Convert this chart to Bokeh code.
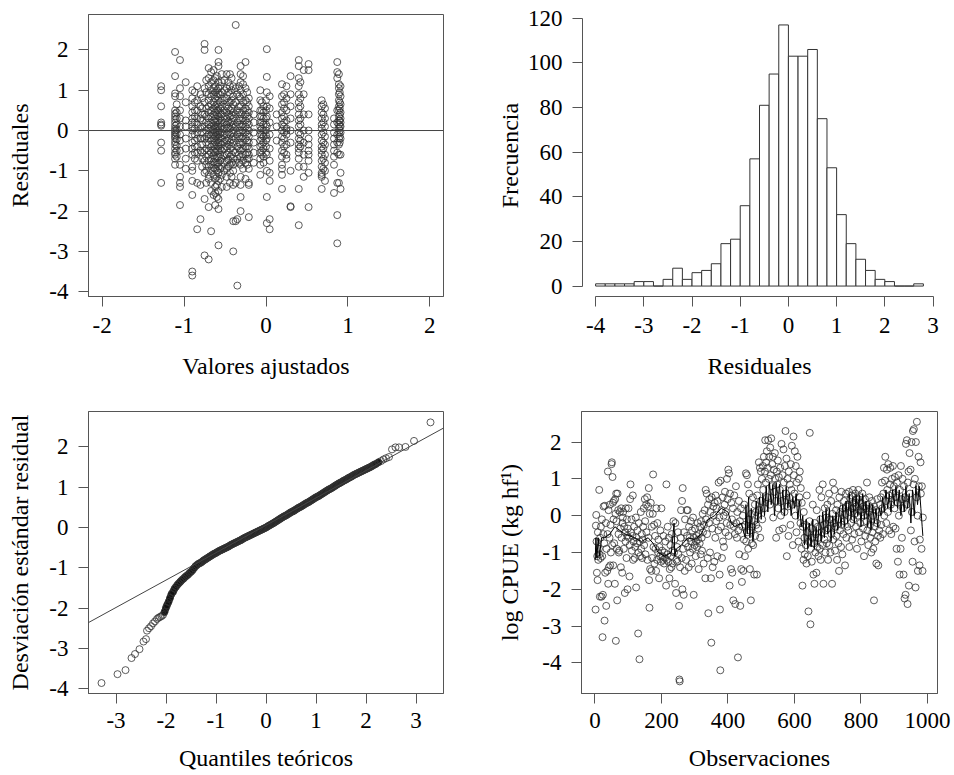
from bokeh.plotting import figure
from bokeh.models import Range1d, FixedTicker, Span, Slope, CustomJSTickFormatter
from bokeh.layouts import column, row
from bokeh.embed import file_html
from bokeh.resources import INLINE

# ---------------- data: residuals vs fitted (top-left) ----------------
tl_fitted = [
    -1.28, -1.28, -1.28, -1.28, -1.28, -1.28, -1.28, -1.28, -1.28,
    -1.11, -1.11, -1.11, -1.11, -1.11, -1.11, -1.11, -1.11, -1.11, -1.11, -1.11, -1.11,
    -1.11, -1.11, -1.11, -1.11, -1.11, -1.11, -1.11, -1.11, -1.11, -1.11, -1.11,
    -1.05, -1.05, -1.05, -1.05, -1.05, -1.05, -1.05, -1.05, -1.05, -1.05, -1.05, -1.05, -1.05, -1.05,
    -0.98, -0.98, -0.98, -0.98, -0.98, -0.98, -0.98, -0.98,
    -0.90, -0.90, -0.90, -0.90, -0.90, -0.90, -0.90, -0.90, -0.90, -0.90, -0.90, -0.90,
    -0.90, -0.90, -0.90, -0.90, -0.90, -0.90,
    -0.84, -0.84, -0.84, -0.84, -0.84, -0.84, -0.84, -0.84, -0.84, -0.84, -0.84, -0.84,
    -0.80, -0.80, -0.80, -0.80, -0.80, -0.80, -0.80, -0.80,
    -0.75, -0.75, -0.75, -0.75, -0.75, -0.75, -0.75, -0.75, -0.75, -0.75, -0.75, -0.75,
    -0.70, -0.70, -0.70, -0.70, -0.70, -0.70, -0.70, -0.70, -0.70, -0.70, -0.70,
    -0.70, -0.70, -0.70, -0.70, -0.70, -0.70, -0.70, -0.70, -0.70, -0.70,
    -0.67, -0.67, -0.67, -0.67, -0.67, -0.67, -0.67, -0.67, -0.67, -0.67,
    -0.67, -0.67, -0.67, -0.67, -0.67, -0.67, -0.67, -0.67, -0.67, -0.67,
    -0.62, -0.62, -0.62, -0.62, -0.62, -0.62, -0.62, -0.62, -0.62, -0.62, -0.62,
    -0.62, -0.62, -0.62, -0.62, -0.62, -0.62, -0.62, -0.62, -0.62, -0.62,
    -0.58, -0.58, -0.58, -0.58, -0.58, -0.58, -0.58, -0.58, -0.58, -0.58, -0.58, -0.58, -0.58, -0.58,
    -0.58, -0.58, -0.58, -0.58, -0.58, -0.58, -0.58, -0.58, -0.58, -0.58, -0.58, -0.58, -0.58,
    -0.54, -0.54, -0.54, -0.54, -0.54, -0.54, -0.54, -0.54, -0.54, -0.54, -0.54, -0.54, -0.54, -0.54, -0.54, -0.54,
    -0.48, -0.48, -0.48, -0.48, -0.48, -0.48, -0.48, -0.48, -0.48, -0.48, -0.48, -0.48, -0.48, -0.48, -0.48, -0.48,
    -0.44, -0.44, -0.44, -0.44, -0.44, -0.44, -0.44, -0.44, -0.44, -0.44, -0.44, -0.44, -0.44, -0.44, -0.44,
    -0.40, -0.40, -0.40, -0.40, -0.40, -0.40, -0.40, -0.40, -0.40, -0.40, -0.40, -0.40, -0.40, -0.40, -0.40, -0.40,
    -0.37, -0.37, -0.37, -0.37, -0.37, -0.37, -0.37, -0.37, -0.37, -0.37,
    -0.35, -0.35, -0.35, -0.35, -0.35, -0.35, -0.35, -0.35,
    -0.31, -0.31, -0.31, -0.31, -0.31, -0.31, -0.31, -0.31, -0.31, -0.31,
    -0.31, -0.31, -0.31, -0.31, -0.31, -0.31, -0.31, -0.31, -0.31,
    -0.25, -0.25, -0.25, -0.25, -0.25, -0.25, -0.25, -0.25, -0.25, -0.25, -0.25, -0.25, -0.25,
    -0.21, -0.21, -0.21, -0.21, -0.21, -0.21, -0.21, -0.21, -0.21, -0.21, -0.21, -0.21, -0.21, -0.21, -0.21,
    -0.15, -0.15, -0.15, -0.15, -0.15, -0.15,
    -0.07, -0.07, -0.07, -0.07, -0.07, -0.07, -0.07, -0.07, -0.07, -0.07, -0.07, -0.07, -0.07, -0.07,
    -0.03, -0.03, -0.03, -0.03, -0.03, -0.03, -0.03, -0.03, -0.03, -0.03,
    0.01, 0.01, 0.01, 0.01, 0.01, 0.01, 0.01, 0.01, 0.01, 0.01, 0.01,
    0.045, 0.045, 0.045, 0.045, 0.045, 0.045, 0.045, 0.045, 0.045, 0.045,
    0.13, 0.13, 0.13,
    0.195, 0.195, 0.195, 0.195, 0.195, 0.195, 0.195, 0.195, 0.195, 0.195, 0.195, 0.195, 0.195, 0.195, 0.195,
    0.25, 0.25, 0.25, 0.25, 0.25, 0.25, 0.25, 0.25, 0.25, 0.25,
    0.30, 0.30, 0.30, 0.30, 0.30, 0.30, 0.30, 0.30, 0.30,
    0.40, 0.40, 0.40, 0.40, 0.40, 0.40, 0.40, 0.40, 0.40, 0.40,
    0.40, 0.40, 0.40, 0.40, 0.40, 0.40, 0.40, 0.40, 0.40,
    0.46, 0.46, 0.46, 0.46, 0.46, 0.46, 0.46, 0.46,
    0.52, 0.52, 0.52, 0.52, 0.52, 0.52, 0.52, 0.52, 0.52, 0.52, 0.52,
    0.68, 0.68, 0.68, 0.68, 0.68, 0.68, 0.68, 0.68, 0.68, 0.68, 0.68, 0.68, 0.68, 0.68, 0.68, 0.68, 0.68,
    0.72, 0.72, 0.72, 0.72, 0.72, 0.72, 0.72, 0.72, 0.72,
    0.83, 0.83, 0.83, 0.83, 0.83, 0.83, 0.83, 0.83, 0.83,
    0.87, 0.87, 0.87, 0.87, 0.87, 0.87, 0.87, 0.87, 0.87, 0.87, 0.87,
    0.89, 0.89, 0.89, 0.89, 0.89, 0.89, 0.89, 0.89, 0.89, 0.89, 0.89, 0.89, 0.89, 0.89, 0.89, 0.89,
    0.91, 0.91, 0.91, 0.91, 0.91, 0.91, 0.91, 0.91, 0.91, 0.91, 0.91, 0.91,
    -0.73, -0.73, -0.73, -0.73, -0.73, -0.73, -0.73, -0.73, -0.73, -0.73, -0.73, -0.73, -0.73,
    -0.64, -0.64, -0.64, -0.64, -0.64, -0.64, -0.64, -0.64, -0.64, -0.64,
    -0.64, -0.64, -0.64, -0.64, -0.64, -0.64, -0.64, -0.64, -0.64,
    -0.60, -0.60, -0.60, -0.60, -0.60, -0.60, -0.60, -0.60, -0.60, -0.60,
    -0.60, -0.60, -0.60, -0.60, -0.60, -0.60, -0.60, -0.60, -0.60,
    -0.56, -0.56, -0.56, -0.56, -0.56, -0.56, -0.56, -0.56, -0.56, -0.56, -0.56, -0.56, -0.56, -0.56, -0.56, -0.56,
    -0.51, -0.51, -0.51, -0.51, -0.51, -0.51, -0.51, -0.51, -0.51, -0.51, -0.51, -0.51, -0.51,
    -0.46, -0.46, -0.46, -0.46, -0.46, -0.46, -0.46, -0.46, -0.46, -0.46, -0.46, -0.46, -0.46,
    -0.42, -0.42, -0.42, -0.42, -0.42, -0.42, -0.42, -0.42, -0.42, -0.42, -0.42, -0.42, -0.42,
    -0.33, -0.33, -0.33, -0.33, -0.33, -0.33, -0.33, -0.33, -0.33, -0.33, -0.33, -0.33,
    -0.28, -0.28, -0.28, -0.28, -0.28, -0.28, -0.28, -0.28, -0.28, -0.28, -0.28, -0.28, -0.28, -0.28,
    -0.23, -0.23, -0.23, -0.23, -0.23, -0.23, -0.23, -0.23, -0.23, -0.23, -0.23, -0.23,
    -0.05, -0.05, -0.05, -0.05, -0.05, -0.05, -0.05, -0.05, -0.05, -0.05,
    -1.09, -1.09, -1.09, -1.09, -1.09, -1.09, -1.09, -1.09, -1.09, -1.09,
    0.90, 0.90, 0.90, 0.90, 0.90, 0.90, 0.90, 0.90, 0.90,
    0.70, 0.70, 0.70, 0.70, 0.70, 0.70, 0.70, 0.70,
    0.42, 0.42, 0.42, 0.42, 0.42, 0.42, 0.42, 0.42,
    0.22, 0.22, 0.22, 0.22, 0.22, 0.22, 0.22, 0.22, 0.22, 0.22,
    0.00, 0.00, 0.00, 0.00, 0.00, 0.00, 0.00, 0.00, 0.00,
    -0.87, -0.87, -0.87, -0.87, -0.87, -0.87, -0.87, -0.87, -0.87, -0.87, -0.87,
    -0.78, -0.78, -0.78, -0.78, -0.78, -0.78, -0.78, -0.78, -0.78, -0.78, -0.78,
]
tl_resid = [
    1.1, 1.0, 0.6, 0.2, 0.15, 0.12, -0.3, -0.5, -1.3,
    1.95, 1.35, 0.92, 0.85, 0.5, 0.42, 0.35, 0.28, 0.2, 0.12, 0.05, 0.0,
    -0.05, -0.1, -0.15, -0.2, -0.28, -0.35, -0.45, -0.55, -0.6, -0.7, -0.85,
    1.75, 1.05, 0.85, 0.5, 0.3, 0.1, -0.1, -0.25, -0.5, -0.85, -1.15, -1.3, -1.4, -1.85,
    1.2, 0.7, 0.25, 0.1, -0.2, -0.45, -0.7, -0.95,
    1.0, 0.8, 0.6, 0.45, 0.3, 0.2, 0.1, 0.0, -0.1, -0.3, -0.45, -0.6,
    -0.9, -1.0, -1.25, -1.6, -3.5, -3.6,
    1.1, 0.75, 0.5, 0.3, 0.15, -0.05, -0.2, -0.4, -0.55, -0.75, -1.3, -2.45,
    0.9, 0.6, 0.3, 0.05, -0.2, -0.5, -1.35, -2.2,
    2.15, 2.0, 1.05, 0.7, 0.4, 0.1, -0.2, -0.5, -0.75, -1.05, -1.7, -3.1,
    1.55, 1.3, 1.1, 0.9, 0.75, 0.6, 0.45, 0.3, 0.15, 0.05, -0.1,
    -0.2, -0.35, -0.5, -0.6, -0.75, -0.9, -1.1, -1.2, -1.9, -3.2,
    1.45, 1.2, 1.0, 0.85, 0.65, 0.5, 0.35, 0.2, 0.1, 0.0,
    -0.12, -0.25, -0.4, -0.55, -0.7, -0.85, -1.0, -1.3, -1.5, -2.5,
    1.3, 1.1, 0.95, 0.8, 0.6, 0.45, 0.3, 0.2, 0.05, -0.05, -0.15,
    -0.3, -0.45, -0.55, -0.7, -0.8, -0.95, -1.2, -1.4, -1.55, -1.85,
    2.0, 1.7, 1.6, 1.2, 1.05, 0.9, 0.75, 0.6, 0.5, 0.35, 0.25, 0.1, 0.0, -0.1,
    -0.2, -0.3, -0.4, -0.5, -0.65, -0.8, -0.9, -1.05, -1.25, -1.5, -1.7, -1.95, -2.85,
    1.4, 1.2, 0.95, 0.8, 0.6, 0.4, 0.25, 0.1, -0.05, -0.2, -0.35, -0.5, -0.7, -0.9, -1.1, -1.4,
    1.4, 1.05, 0.8, 0.6, 0.45, 0.3, 0.15, 0.05, -0.1, -0.25, -0.4, -0.6, -0.75, -0.95, -1.15, -1.4,
    1.4, 1.1, 0.9, 0.7, 0.5, 0.35, 0.2, 0.05, -0.1, -0.3, -0.45, -0.65, -0.85, -1.05, -1.3,
    1.1, 0.85, 0.65, 0.45, 0.3, 0.15, 0.0, -0.15, -0.3, -0.5, -0.7, -0.85, -1.0, -1.35, -2.25, -3.0,
    2.62, 1.05, 0.7, 0.4, 0.1, -0.2, -0.55, -0.8, -1.3, -2.25,
    0.9, 0.5, 0.2, -0.1, -0.4, -0.7, -2.2, -3.85,
    1.6, 1.4, 1.2, 1.0, 0.8, 0.6, 0.4, 0.25, 0.1, -0.05,
    -0.2, -0.35, -0.5, -0.65, -0.85, -1.15, -1.35, -1.65, -2.0,
    1.7, 1.05, 0.75, 0.55, 0.4, 0.25, 0.1, -0.05, -0.2, -0.4, -0.6, -0.8, -1.2,
    0.8, 0.6, 0.45, 0.3, 0.15, 0.0, -0.15, -0.3, -0.45, -0.6, -0.7, -0.95, -1.3, -1.35, -2.15,
    0.4, 0.2, -0.05, -0.3, -0.55, -0.8,
    1.0, 0.75, 0.5, 0.35, 0.2, 0.1, 0.0, -0.1, -0.25, -0.4, -0.55, -0.7, -0.85, -1.1,
    0.6, 0.45, 0.3, 0.15, 0.0, -0.15, -0.3, -0.45, -0.65, -0.8,
    2.02, 1.33, 0.95, 0.6, 0.35, 0.1, -0.2, -0.6, -1.0, -1.65, -2.3,
    0.85, 0.55, 0.2, -0.1, -0.45, -0.75, -1.05, -1.25, -2.2, -2.45,
    0.4, 0.1, -0.25,
    1.15, 0.85, 0.65, 0.45, 0.3, 0.15, 0.0, -0.15, -0.3, -0.5, -0.65, -0.85, -0.95, -1.1, -1.45,
    1.1, 0.8, 0.5, 0.25, 0.05, 0.0, -0.1, -0.35, -0.6, -0.7,
    1.35, 0.9, 0.6, 0.3, 0.0, -0.3, -1.0, -1.9, -1.88,
    1.75, 1.6, 1.3, 1.1, 0.9, 0.7, 0.55, 0.4, 0.25, 0.1,
    -0.05, -0.2, -0.35, -0.45, -0.55, -0.7, -0.9, -1.45, -2.35,
    1.5, 0.9, 0.4, 0.0, -0.3, -0.6, -0.9, -1.15,
    1.65, 1.5, 0.4, 0.0, -0.2, -0.35, -0.5, -0.6, -0.75, -1.05, -1.9,
    0.75, 0.6, 0.45, 0.3, 0.15, 0.05, -0.1, -0.25, -0.4, -0.5, -0.6, -0.75, -0.9, -1.05, -1.1, -1.15, -1.45,
    0.55, 0.3, 0.1, -0.15, -0.35, -0.6, -0.8, -1.0, -1.25,
    0.3, 0.15, -0.05, -0.2, -0.35, -0.5, -0.65, -0.85, -1.55,
    1.7, 1.45, 1.3, 0.5, 0.2, -0.1, -0.3, -0.55, -1.3, -2.1, -2.8,
    1.4, 1.15, 1.05, 0.9, 0.75, 0.6, 0.5, 0.35, 0.25, 0.15, 0.05, -0.05, -0.2, -0.35, -0.6, -1.3,
    1.1, 0.85, 0.65, 0.45, 0.3, 0.2, 0.1, -0.05, -0.2, -0.6, -1.05, -1.45,
    1.25, 0.95, 0.55, 0.35, 0.2, 0.0, -0.15, -0.3, -0.45, -0.65, -0.85, -1.0, -1.3,
    1.5, 1.25, 1.05, 0.9, 0.7, 0.55, 0.4, 0.25, 0.12, 0.02,
    -0.08, -0.2, -0.35, -0.5, -0.62, -0.78, -0.92, -1.1, -1.6,
    1.35, 1.0, 0.85, 0.65, 0.5, 0.38, 0.22, 0.1, -0.02, -0.12,
    -0.25, -0.38, -0.52, -0.68, -0.85, -1.0, -1.15, -1.35, -1.65,
    1.1, 0.9, 0.7, 0.55, 0.42, 0.3, 0.18, 0.05, -0.08, -0.18, -0.3, -0.45, -0.6, -0.75, -0.95, -1.2,
    1.25, 1.0, 0.75, 0.5, 0.35, 0.2, 0.05, -0.12, -0.28, -0.45, -0.62, -0.8, -1.0,
    1.2, 0.95, 0.7, 0.55, 0.4, 0.22, 0.08, -0.05, -0.2, -0.35, -0.55, -0.72, -0.9,
    1.3, 1.0, 0.75, 0.55, 0.38, 0.22, 0.1, -0.05, -0.22, -0.4, -0.6, -0.8, -1.15,
    1.1, 0.85, 0.6, 0.45, 0.3, 0.15, 0.0, -0.15, -0.3, -0.45, -0.6, -0.8,
    1.35, 1.15, 0.9, 0.7, 0.5, 0.3, 0.15, 0.0, -0.15, -0.3, -0.45, -0.6, -0.75, -0.95,
    0.95, 0.7, 0.5, 0.35, 0.2, 0.05, -0.1, -0.25, -0.4, -0.55, -0.7, -0.85,
    0.7, 0.5, 0.35, 0.2, 0.05, -0.1, -0.2, -0.35, -0.5, -0.6,
    0.65, 0.45, 0.3, 0.15, 0.02, -0.08, -0.22, -0.38, -0.5, -0.65,
    0.95, 0.7, 0.55, 0.4, 0.25, 0.1, 0.0, -0.15, -0.3,
    0.65, 0.4, 0.2, -0.05, -0.3, -0.45, -0.7, -0.95,
    1.2, 0.8, 0.6, 0.3, 0.15, -0.1, -0.25, -0.4,
    0.9, 0.7, 0.55, 0.35, 0.2, 0.1, -0.05, -0.2, -0.4, -0.55,
    0.75, 0.5, 0.3, 0.15, 0.0, -0.12, -0.25, -0.4, -0.55,
    0.95, 0.7, 0.5, 0.35, 0.2, 0.05, -0.1, -0.25, -0.4, -0.55, -0.7,
    0.8, 0.55, 0.4, 0.25, 0.1, -0.05, -0.2, -0.35, -0.55, -0.7, -0.9,
]

# ---------------- data: histogram of residuals (top-right) ----------------
hist_breaks = [-4.0, -3.8, -3.6, -3.4, -3.2, -3.0, -2.8, -2.6, -2.4, -2.2, -2.0,
               -1.8, -1.6, -1.4, -1.2, -1.0, -0.8, -0.6, -0.4, -0.2, 0.0,
               0.2, 0.4, 0.6, 0.8, 1.0, 1.2, 1.4, 1.6, 1.8, 2.0, 2.2, 2.4, 2.6, 2.8]
hist_counts = [1, 1, 1, 1, 2, 2, 0, 3, 8, 3, 6, 7, 10, 19, 21, 36, 57, 81, 95, 117,
               103, 103, 106, 75, 53, 32, 19, 12, 7, 3, 2, 0, 0, 1]

# ---------------- data: normal Q-Q (bottom-left) ----------------
qq_theo = [
    -3.29, -2.97, -2.81, -2.69, -2.62, -2.53, -2.45, -2.40, -2.38, -2.34,
    -2.30, -2.26, -2.22, -2.18, -2.15, -2.12, -2.09, -2.06, -2.03, -2.00,
    -1.98, -1.95, -1.92, -1.89, -1.86, -1.83, -1.80, -1.77, -1.74, -1.71,
    -1.68, -1.65, -1.62, -1.59, -1.56, -1.53, -1.50, -1.47, -1.44, -1.41,
    -1.38, -1.35, -1.30, -1.25, -1.20, -1.15, -1.10, -1.05, -1.00, -0.95,
    -0.90, -0.85, -0.80, -0.75, -0.70, -0.65, -0.60, -0.55, -0.50, -0.45,
    -0.40, -0.35, -0.30, -0.25, -0.20, -0.15, -0.10, -0.05, 0.00, 0.05,
    0.10, 0.15, 0.20, 0.25, 0.30, 0.35, 0.40, 0.45, 0.50, 0.55,
    0.60, 0.65, 0.70, 0.75, 0.80, 0.85, 0.90, 0.95, 1.00, 1.05,
    1.10, 1.15, 1.20, 1.25, 1.30, 1.35, 1.40, 1.45, 1.50, 1.55,
    1.60, 1.65, 1.70, 1.75, 1.80, 1.85, 1.90, 1.95, 2.00, 2.05,
    2.10, 2.15, 2.20, 2.25, 2.30, 2.35, 2.40, 2.46, 2.52, 2.59,
    2.66, 2.79, 2.96, 3.29,
    -1.325, -1.275, -1.225, -1.175, -1.125, -1.075, -1.025, -0.975, -0.925, -0.875,
    -0.825, -0.775, -0.725, -0.675, -0.625, -0.575, -0.525, -0.475, -0.425, -0.375,
    -0.325, -0.275, -0.225, -0.175, -0.125, -0.075, -0.025, 0.025, 0.075, 0.125,
    0.175, 0.225, 0.275, 0.325, 0.375, 0.425, 0.475, 0.525, 0.575, 0.625,
    0.675, 0.725, 0.775, 0.825, 0.875, 0.925, 0.975, 1.025, 1.075, 1.125,
    1.175, 1.225, 1.275, 1.325, 1.375, 1.425, 1.475, 1.525, 1.575, 1.625,
    1.675, 1.725, 1.775, 1.825, 1.875, 1.925, 1.975, 2.025, 2.075, 2.125,
    2.175,
]
qq_sample = [
    -3.86, -3.64, -3.54, -3.24, -3.14, -3.02, -2.83, -2.77, -2.56, -2.50,
    -2.45, -2.38, -2.33, -2.27, -2.24, -2.22, -2.20, -2.17, -2.10, -1.99,
    -1.93, -1.85, -1.75, -1.65, -1.60, -1.52, -1.47, -1.42, -1.38, -1.34,
    -1.30, -1.27, -1.23, -1.20, -1.17, -1.13, -1.10, -1.06, -1.01, -0.96,
    -0.93, -0.90, -0.87, -0.82, -0.78, -0.74, -0.70, -0.66, -0.63, -0.59,
    -0.56, -0.53, -0.50, -0.47, -0.43, -0.40, -0.37, -0.34, -0.31, -0.27,
    -0.24, -0.21, -0.18, -0.15, -0.12, -0.09, -0.06, -0.03, 0.00, 0.04,
    0.075, 0.11, 0.15, 0.19, 0.23, 0.27, 0.30, 0.34, 0.38, 0.41,
    0.45, 0.49, 0.52, 0.56, 0.60, 0.63, 0.67, 0.71, 0.75, 0.78,
    0.82, 0.86, 0.90, 0.94, 0.97, 1.01, 1.05, 1.09, 1.12, 1.16,
    1.19, 1.23, 1.26, 1.30, 1.33, 1.36, 1.39, 1.42, 1.45, 1.48,
    1.51, 1.55, 1.58, 1.62, 1.65, 1.69, 1.72, 1.75, 1.94, 1.99,
    1.99, 2.00, 2.15, 2.61,
    -0.885, -0.845, -0.80, -0.76, -0.72, -0.68, -0.645, -0.61, -0.575, -0.545,
    -0.515, -0.485, -0.45, -0.415, -0.385, -0.355, -0.325, -0.29, -0.255, -0.225,
    -0.195, -0.165, -0.135, -0.105, -0.075, -0.045, -0.015, 0.02, 0.057, 0.093,
    0.13, 0.17, 0.21, 0.25, 0.285, 0.32, 0.36, 0.395, 0.43, 0.47,
    0.505, 0.54, 0.58, 0.615, 0.65, 0.69, 0.73, 0.765, 0.80, 0.84,
    0.88, 0.92, 0.955, 0.99, 1.03, 1.07, 1.105, 1.14, 1.175, 1.21,
    1.245, 1.28, 1.315, 1.345, 1.375, 1.405, 1.435, 1.465, 1.495, 1.53,
    1.565,
]
qq_slope = 0.68
qq_intercept = 0.055
qq_dense_from = -2.05   # where the Q-Q points overlap into a solid band
qq_dense_to = 2.25

# ---------------- data: log CPUE by observation (bottom-right) ----------------
obs_idx = [
    2, 3, 4, 5, 6, 7, 8, 9, 10, 12,
    13, 14, 15, 16, 17, 18, 20, 21, 22, 23,
    24, 25, 26, 28, 29, 30, 31, 33, 34, 35,
    37, 38, 39, 40, 41, 42, 44, 45, 46, 47,
    48, 50, 51, 52, 53, 54, 55, 56, 57, 58,
    60, 61, 62, 63, 64, 65, 66, 67, 68, 70,
    71, 72, 73, 75, 76, 78, 79, 80, 82, 83,
    84, 85, 87, 88, 90, 91, 92, 93, 95, 96,
    97, 98, 99, 101, 102, 104, 105, 106, 107, 108,
    110, 111, 113, 114, 115, 116, 118, 120, 121, 123,
    124, 125, 127, 128, 130, 131, 132, 134, 135, 136,
    138, 139, 141, 142, 144, 145, 147, 148, 150, 151,
    152, 154, 155, 157, 158, 160, 161, 162, 163, 164,
    165, 166, 168, 170, 171, 172, 174, 175, 176, 178,
    179, 181, 182, 184, 185, 187, 188, 190, 191, 193,
    194, 196, 197, 199, 200, 202, 203, 205, 206, 208,
    209, 211, 212, 214, 215, 216, 218, 219, 221, 222,
    224, 225, 227, 228, 230, 231, 233, 234, 236, 238,
    239, 241, 242, 244, 245, 247, 248, 250, 251, 253,
    254, 255, 256, 258, 259, 261, 262, 263, 264, 265,
    267, 268, 270, 271, 273, 274, 276, 277, 279, 280,
    282, 283, 285, 286, 288, 289, 291, 292, 294, 295,
    297, 298, 300, 301, 303, 304, 306, 307, 309, 310,
    312, 313, 315, 316, 318, 319, 321, 322, 324, 325,
    327, 328, 330, 332, 333, 334, 336, 337, 339, 340,
    341, 343, 344, 346, 347, 349, 350, 351, 353, 354,
    356, 357, 359, 360, 362, 363, 365, 366, 368, 369,
    371, 372, 374, 375, 376, 377, 378, 379, 381, 382,
    384, 385, 387, 388, 390, 391, 393, 394, 396, 397,
    399, 401, 402, 403, 405, 406, 407, 409, 410, 412,
    413, 415, 416, 418, 419, 421, 422, 424, 425, 427,
    428, 430, 431, 433, 434, 436, 437, 439, 440, 442,
    443, 445, 446, 448, 449, 451, 452, 454, 455, 457,
    458, 460, 461, 463, 464, 466, 467, 469, 470, 472,
    473, 475, 476, 478, 479, 481, 482, 484, 485, 487,
    488, 490, 491, 493, 494, 496, 497, 499, 500, 502,
    503, 505, 506, 508, 509, 511, 512, 514, 515, 517,
    518, 520, 521, 523, 524, 526, 527, 529, 530, 532,
    533, 535, 536, 538, 539, 541, 542, 544, 545, 547,
    548, 550, 551, 553, 554, 556, 557, 559, 561, 562,
    564, 565, 567, 568, 570, 571, 573, 574, 576, 577,
    579, 580, 582, 583, 585, 586, 588, 589, 591, 592,
    594, 595, 597, 598, 600, 601, 603, 604, 606, 607,
    609, 610, 612, 613, 615, 616, 618, 619, 621, 622,
    624, 625, 627, 628, 630, 631, 633, 634, 636, 637,
    639, 640, 642, 643, 645, 646, 648, 649, 651, 652,
    654, 655, 657, 658, 660, 661, 663, 664, 666, 667,
    669, 670, 672, 673, 675, 676, 678, 679, 681, 682,
    684, 685, 687, 688, 690, 691, 693, 694, 696, 697,
    699, 701, 702, 704, 705, 707, 708, 710, 711, 713,
    714, 716, 717, 719, 720, 722, 723, 725, 726, 728,
    729, 731, 732, 734, 735, 737, 738, 740, 741, 743,
    744, 746, 747, 749, 750, 752, 753, 755, 756, 758,
    759, 761, 762, 764, 765, 767, 768, 770, 771, 773,
    774, 776, 777, 779, 780, 782, 783, 785, 786, 788,
    789, 791, 792, 794, 795, 797, 798, 800, 801, 803,
    804, 806, 807, 809, 810, 812, 813, 815, 816, 818,
    819, 821, 822, 824, 825, 827, 828, 830, 831, 833,
    834, 836, 837, 839, 840, 842, 843, 845, 846, 848,
    849, 851, 852, 854, 855, 857, 858, 860, 861, 863,
    864, 866, 867, 869, 870, 872, 873, 875, 876, 878,
    879, 881, 882, 884, 885, 887, 888, 890, 891, 893,
    894, 896, 897, 899, 901, 902, 904, 905, 907, 908,
    910, 911, 913, 914, 916, 917, 919, 920, 922, 923,
    925, 926, 928, 929, 931, 932, 934, 935, 937, 938,
    940, 941, 943, 944, 946, 947, 949, 950, 952, 953,
    955, 956, 958, 959, 961, 962, 964, 965, 967, 968,
    970, 971, 973, 974, 976, 977, 979, 980, 982, 983,
    985, 986,
]
log_cpue = [
    -2.55, -0.27, 0.02, -0.7, -1.55, -1.1, -1.75, -0.45, -1.2, -0.9,
    0.7, -1.05, -2.2, -0.6, -1.15, -0.3, -2.2, -0.1, -1.1, -3.3,
    -2.15, -0.5, 0.25, -0.75, -2.85, 0.27, -1.55, -0.2, -2.45, -0.9,
    -1.5, -0.5, 1.2, -1.85, 0.15, -1.4, -0.6, 0.3, -1.35, -0.25,
    -1.0, 1.4, 1.45, -0.8, 1.05, 0.35, -1.35, -0.1, 0.4, -0.75,
    -1.85, 0.45, 0.05, -3.4, 0.6, -0.15, -0.9, -2.3, 0.6, 0.15,
    -0.5, -1.0, -0.95, 0.1, -0.35, -1.4, 0.2, -0.6, -1.55, -0.2,
    -0.05, 0.1, -0.9, -0.3, -2.1, -0.45, -0.7, 0.2, -1.15, -0.1,
    -0.55, -2.0, -0.35, 0.2, -0.6, -1.65, -0.8, 0.45, 0.85, -0.45,
    -0.1, -0.95, -0.55, 0.55, -1.2, -0.7, -0.3, -1.15, -0.85, -0.05,
    -1.95, -0.6, -0.75, -0.4, -3.2, -1.0, -0.2, -3.9, -0.7, -1.1,
    0.1, -0.9, -0.5, -1.15, -0.65, -0.3, 0.2, -0.8, 0.45, -0.15,
    -1.05, 0.3, -0.45, 0.5, -1.2, 0.25, -0.6, 0.75, -1.75, -2.5,
    0.05, -1.45, 0.35, -1.5, -0.3, -1.15, 0.05, 1.12, -0.85, -0.25,
    -1.3, -0.55, -0.9, -1.5, 0.2, -1.2, -0.2, -1.0, -0.65, -1.7,
    -0.85, -1.1, -0.4, -1.25, 0.2, -0.95, -1.1, -1.2, -0.55, -1.3,
    -1.0, -1.15, -0.7, -1.9, 0.85, -1.2, -1.05, -0.3, -1.25, -0.6,
    -1.7, -1.45, -0.8, -1.1, -1.4, -0.5, -0.95, -1.3, -0.15, -1.0,
    -0.65, -1.85, -0.2, -2.1, -1.2, -0.85, -1.25, -0.45, -1.05, -2.45,
    -4.45, -4.5, -1.4, -0.6, 0.15, -1.15, 0.4, -2.0, 0.75, -0.9,
    -2.15, -0.45, -1.5, -0.1, -0.75, -1.2, 0.15, -0.55, 0.15, -0.85,
    -1.4, -0.3, -0.6, -1.0, -0.15, -0.7, -1.3, -0.4, -0.9, -0.05,
    -2.15, -0.6, -0.8, -0.35, -1.1, -0.7, -0.55, -0.85, -0.2, -0.65,
    -1.45, -0.5, -0.75, -0.3, -1.05, -0.15, -0.6, -0.95, 0.05, -0.45,
    -1.3, -0.25, 0.15, -1.7, 0.7, -0.1, 0.6, -0.5, -1.15, 0.3,
    -2.65, -0.2, 0.45, -1.0, 0.1, -1.7, -3.45, 0.5, -0.35, -1.4,
    0.25, 0.0, -1.25, 0.35, -0.6, 0.55, -0.15, 0.2, -1.1, 0.4,
    -0.4, 0.9, -0.05, -1.6, -2.55, -4.2, 0.95, -0.3, 0.15, -1.15,
    0.5, -0.7, 0.0, -0.85, 0.3, 0.65, -0.45, 0.1, -0.2, 1.0,
    0.45, 1.25, -0.55, 1.15, -1.9, 0.6, -0.25, -1.45, 0.35, -0.1,
    -1.55, 0.2, -2.3, -0.3, 0.55, -0.5, -2.4, 0.8, -0.2, -0.6,
    0.1, -3.85, -0.4, 0.4, -1.05, -0.15, -2.45, 0.2, -1.45, -1.8,
    -0.3, 0.0, -1.5, -0.65, 0.3, -1.1, -0.25, 1.15, -0.7, 1.1,
    -0.45, 0.85, -0.9, -0.1, 0.6, -1.45, -0.4, -2.3, 0.05, -0.75,
    -0.3, 0.5, -0.8, -0.15, -1.6, 0.3, -0.55, 0.1, -0.25, -1.6,
    0.55, 0.85, -0.35, 1.45, 0.15, 1.3, -0.6, 1.2, 0.4, 1.0,
    -0.1, 1.35, 0.7, 1.6, 0.2, 1.2, 2.05, 0.9, 1.45, 1.75,
    0.5, 1.3, 2.05, 1.0, 1.6, 0.3, 1.85, 1.1, 2.1, 0.8,
    1.4, 1.6, -0.05, 1.25, 0.65, 1.7, 1.0, 0.4, -0.6, 1.2,
    0.85, 1.5, 0.2, 1.05, -0.4, 0.7, 1.3, 0.0, 1.95, 0.4,
    1.1, -0.35, 1.8, 0.9, 0.1, 1.35, 2.3, 0.6, 1.55, -1.1,
    1.0, 0.25, -0.55, 1.2, 0.5, 0.85, -0.25, 1.4, 0.7, 1.9,
    0.3, -0.8, 2.15, 1.1, 0.6, 1.75, 0.0, 1.35, -0.45, 0.9,
    1.6, 0.35, -0.7, 1.0, 0.5, 1.2, -0.2, 0.75, -0.9, 0.35,
    -1.9, -0.3, -1.2, 0.1, -0.6, -1.05, -0.25, -0.8, -1.3, 0.55,
    -0.45, -1.1, -2.6, -0.7, -0.15, 2.25, -2.95, -0.9, -0.35, -1.25,
    -0.6, 0.3, -1.6, -0.75, -1.85, -0.2, -1.0, -0.5, -1.55, 0.15,
    -0.85, -0.3, -1.1, -0.6, 0.7, -0.9, -0.1, -1.2, 0.5, -0.45,
    -0.8, 0.85, -1.85, -0.25, -0.65, 0.2, -1.0, -0.4, -0.05, -0.75,
    0.3, -1.2, -0.35, 0.6, -0.8, -0.1, -1.0, 0.4, -0.5, -1.85,
    0.05, 0.9, -0.65, -0.2, 0.7, -0.95, -0.3, 0.15, -0.55, -1.2,
    0.3, -0.1, -0.75, -1.5, 0.5, -0.4, 0.1, -0.85, 0.65, -0.25,
    -1.05, 0.2, -0.5, 0.4, -0.15, -1.35, 0.05, 0.6, -0.6, 0.25,
    -0.3, 0.3, -0.4, 0.65, -0.85, 0.1, 0.45, -0.2, 0.55, -0.65,
    0.2, 0.7, -0.1, 0.35, -0.5, 0.05, 0.6, -0.3, 0.25, -0.9,
    0.45, 0.0, 0.7, -0.45, 0.15, 0.5, -0.2, 0.35, -0.7, 0.1,
    0.6, -0.35, 0.25, -1.1, 0.0, 0.45, -0.55, 0.2, -0.15, 0.9,
    -0.4, 0.3, -0.8, 0.1, 0.5, -0.25, -0.6, 0.2, -1.0, 0.4,
    -0.45, 0.0, -0.9, -2.3, 0.25, -0.3, -0.7, 0.15, -1.3, -0.2,
    0.45, -0.55, -1.35, 0.1, -0.4, 0.3, -0.6, 0.5, -0.25, 0.9,
    0.2, -0.5, 0.6, 1.3, 0.0, 0.95, 1.6, 0.4, -0.2, 1.25,
    0.7, 0.1, 1.4, 0.55, -0.4, 0.85, 1.3, 0.3, -0.5, 1.0,
    0.6, 1.35, -0.3, 0.8, 0.2, 1.05, -0.35, 0.5, -0.9, 0.9,
    0.35, -1.25, 1.1, 0.0, -1.6, 0.7, -0.9, 1.35, 0.45, -0.6,
    1.0, 0.2, -1.6, 0.8, -2.25, 0.5, -2.15, 1.95, 0.3, 2.05,
    -2.4, 0.9, 1.2, -1.9, 1.7, 0.6, 1.25, -0.4, 2.0, 0.1,
    -1.25, 2.3, 0.85, 2.35, -0.7, 1.0, -1.95, 2.0, 0.5, 2.55,
    0.0, -1.5, 1.6, 0.8, -1.35, -0.65, 1.45, 0.6, -0.9, 0.8,
    -1.5, -0.05,
]
fit_obs = [
    1, 3, 6, 10, 14, 20, 30, 45, 60, 75,
    90, 105, 120, 140, 160, 175, 190, 210, 230, 238,
    240, 245, 260, 280, 300, 320, 340, 360, 380, 400,
    410, 420, 440, 452, 454, 458, 462, 466, 470, 475,
    480, 485, 490, 495, 500, 505, 510, 515, 520, 525,
    530, 535, 540, 545, 550, 555, 560, 565, 570, 575,
    580, 585, 590, 595, 600, 605, 610, 615, 620, 625,
    630, 635, 640, 645, 650, 655, 660, 665, 670, 675,
    680, 685, 690, 695, 700, 705, 710, 715, 720, 725,
    730, 735, 740, 745, 750, 755, 760, 765, 770, 775,
    780, 785, 790, 795, 800, 805, 810, 815, 820, 825,
    830, 835, 840, 845, 850, 855, 860, 865, 870, 875,
    880, 885, 890, 895, 900, 905, 910, 915, 920, 925,
    930, 935, 940, 945, 950, 955, 960, 965, 970, 975,
    980, 984, 986,
]
fit_val = [
    -1.2, -0.6, -1.15, -0.6, -1.1, -0.6, -0.6, -0.5, -0.3, -0.4,
    -0.5, -0.55, -0.6, -0.7, -0.6, -0.75, -1.0, -1.1, -1.0, -0.2,
    -1.1, -0.9, -0.8, -0.6, -0.65, -0.5, -0.1, 0.0, 0.2, 0.1,
    -0.2, -0.3, -0.2, -0.6, 0.3, -0.5, 0.5, -0.6, 0.2, -0.7,
    -0.3, 0.4, -0.2, 0.5, -0.1, 0.6, 0.0, 0.8, 0.1, 0.9,
    0.3, 0.85, 0.0, 0.9, 0.3, 0.85, 0.1, 0.7, 0.0, 0.8,
    0.2, 0.6, 0.0, 0.5, 0.2, 0.6, -0.1, 0.4, -0.3, 0.0,
    -0.8, -0.1, -0.9, -0.2, -0.85, -0.1, -0.9, -0.3, -0.8, 0.0,
    -0.7, 0.1, -0.6, 0.2, -0.5, 0.2, -0.7, 0.0, -0.5, 0.1,
    -0.4, 0.2, -0.3, 0.3, -0.3, 0.4, -0.2, 0.6, -0.1, 0.5,
    -0.2, 0.6, 0.0, 0.55, -0.3, 0.6, -0.1, 0.4, -0.3, 0.35,
    -0.4, 0.3, -0.2, 0.2, -0.3, 0.2, 0.0, 0.5, 0.1, 0.7,
    0.2, 0.6, 0.1, 0.7, 0.3, 0.8, 0.2, 0.7, 0.0, 0.6,
    0.1, 0.8, 0.2, 0.6, -0.2, 0.7, 0.0, 0.8, 0.3, 0.8,
    0.2, -0.3, -0.55,
]

# ---------------- tick positions ----------------
tl_xticks = [-2, -1, 0, 1, 2]
tl_yticks = [-4, -3, -2, -1, 0, 1, 2]
tr_xticks = [-4, -3, -2, -1, 0, 1, 2, 3]
tr_yticks = [0, 20, 40, 60, 80, 100, 120]
bl_xticks = [-3, -2, -1, 0, 1, 2, 3]
bl_yticks = [-4, -3, -2, -1, 0, 1, 2]
br_xticks = [0, 200, 400, 600, 800, 1000]
br_yticks = [-4, -3, -2, -1, 0, 1, 2]

FONT = "Liberation Serif"
AX = "#555555"
PT = "#333333"


def make_fig(xr, yr, w, h, left, right, top, bottom, box=True):
    p = figure(width=w, height=h,
               x_range=Range1d(*xr), y_range=Range1d(*yr),
               min_border_left=left, min_border_right=right,
               min_border_top=top, min_border_bottom=bottom,
               output_backend="svg", toolbar_location=None)
    p.xgrid.visible = False
    p.ygrid.visible = False
    p.background_fill_color = "white"
    p.border_fill_color = "white"
    p.outline_line_color = AX if box else None
    p.outline_line_width = 1
    for ax in p.axis:
        ax.formatter = CustomJSTickFormatter(code="return String(tick);")
        ax.major_tick_out = 10
        ax.major_tick_in = 0
        ax.minor_tick_line_color = None
        ax.axis_line_color = AX
        ax.major_tick_line_color = AX
        ax.major_label_text_font = FONT
        ax.major_label_text_font_size = "23px"
        ax.major_label_text_color = "black"
        ax.axis_label_text_font = FONT
        ax.axis_label_text_font_size = "24px"
        ax.axis_label_text_font_style = "normal"
        ax.axis_label_text_color = "black"
    return p


def circles(p, x, y):
    p.scatter(x, y, marker="circle", size=7, fill_color=None,
              line_color=PT, line_width=1.0, line_alpha=0.8)


# --- top-left: residuals vs fitted ---
p1 = make_fig((-2.167, 2.167), (-4.12, 2.88), 477, 390, 88, 34, 14, 94)
p1.xaxis.ticker = FixedTicker(ticks=tl_xticks)
p1.yaxis.ticker = FixedTicker(ticks=tl_yticks)
p1.xaxis.axis_label = "Valores ajustados"
p1.yaxis.axis_label = "Residuales"
p1.xaxis.major_label_standoff = 11
p1.xaxis.axis_label_standoff = 17
p1.yaxis.major_label_standoff = 10
p1.yaxis.axis_label_standoff = 13
p1.add_layout(Span(location=0, dimension="width", line_color="#444444", line_width=1))
circles(p1, tl_fitted, tl_resid)

# --- top-right: histogram ---
p2 = make_fig((-4.272, 3.072), (-4.68, 121.68), 477, 390, 105, 18, 14, 94, box=False)
p2.xaxis.ticker = FixedTicker(ticks=tr_xticks)
p2.yaxis.ticker = FixedTicker(ticks=tr_yticks)
p2.xaxis.bounds = (tr_xticks[0], tr_xticks[-1])
p2.yaxis.bounds = (tr_yticks[0], tr_yticks[-1])
p2.xaxis.axis_label = "Residuales"
p2.yaxis.axis_label = "Frecuencia"
p2.xaxis.major_label_standoff = 11
p2.xaxis.axis_label_standoff = 17
p2.yaxis.major_label_standoff = 10
p2.yaxis.axis_label_standoff = 2
p2.quad(left=hist_breaks[:-1], right=hist_breaks[1:], bottom=0, top=hist_counts,
        fill_color="white", line_color="#333333", line_width=1)

# --- bottom-left: normal Q-Q ---
p3 = make_fig((-3.55, 3.55), (-4.12, 2.88), 477, 385, 88, 34, 21, 82)
p3.xaxis.ticker = FixedTicker(ticks=bl_xticks)
p3.yaxis.ticker = FixedTicker(ticks=bl_yticks)
p3.xaxis.axis_label = "Quantiles teóricos"
p3.yaxis.axis_label = "Desviación estándar residual"
p3.xaxis.major_label_standoff = 9
p3.xaxis.axis_label_standoff = 14
p3.yaxis.major_label_standoff = 10
p3.yaxis.axis_label_standoff = 13
p3.add_layout(Slope(gradient=qq_slope, y_intercept=qq_intercept,
                    line_color="#444444", line_width=1))
# the ~990 overlapping circles in the middle of the Q-Q plot form a solid band
qq_pairs = sorted(zip(qq_theo, qq_sample))
qq_band = [(a, b) for a, b in qq_pairs if qq_dense_from <= a <= qq_dense_to]
p3.line([a for a, b in qq_band], [b for a, b in qq_band],
        line_color="#111111", line_width=7, line_cap="round", line_join="round")
circles(p3, qq_theo, qq_sample)

# --- bottom-right: log CPUE by observation ---
p4 = make_fig((-40.3, 1030), (-4.83, 2.83), 477, 385, 104, 17, 21, 82)
p4.xaxis.ticker = FixedTicker(ticks=br_xticks)
p4.yaxis.ticker = FixedTicker(ticks=br_yticks)
p4.xaxis.axis_label = "Observaciones"
p4.yaxis.axis_label = "log CPUE (kg hf¹)"
p4.xaxis.major_label_standoff = 9
p4.xaxis.axis_label_standoff = 14
p4.yaxis.major_label_standoff = 10
p4.yaxis.axis_label_standoff = 16
circles(p4, obs_idx, log_cpue)
p4.line(fit_obs, fit_val, line_color="black", line_width=1)

layout = column(row(p1, p2), row(p3, p4))
open("out.html", "w").write(file_html(layout, INLINE))
